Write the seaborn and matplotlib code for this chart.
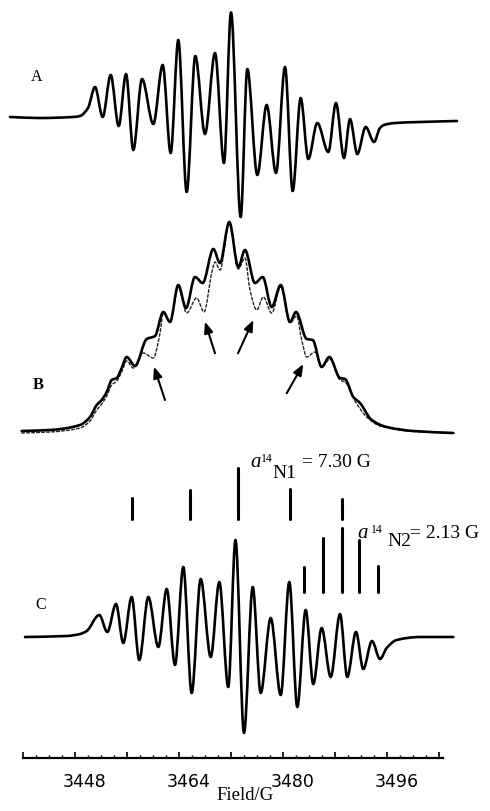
import numpy as np
import pandas as pd
import matplotlib
matplotlib.use("Agg")
import matplotlib.pyplot as plt
from matplotlib.path import Path
from matplotlib.patches import PathPatch
from matplotlib.transforms import ScaledTranslation
import seaborn as sns

# ---------------- data (Field in G, signal in arbitrary units) ----------------
field_A = [3438.00, 3442.62, 3447.69, 3448.77, 3450.00, 3451.08, 3452.26, 3453.49,
           3454.72, 3455.85, 3456.97, 3458.31, 3460.05, 3461.49, 3462.72, 3463.89,
           3465.18, 3466.51, 3468.00, 3469.54, 3470.92, 3472.00, 3473.49, 3474.51,
           3476.05, 3477.49, 3478.92, 3480.31, 3481.49, 3482.72, 3483.89, 3485.28,
           3486.97, 3488.15, 3489.38, 3490.31, 3491.43, 3492.72, 3494.00, 3494.92,
           3495.54, 3497.23, 3501.08, 3506.77]
signal_A = [1, 0, 1, 2, 10, 31, 1, 43, -8, 44, -32, 39, -6, 53, -35, 78, -74, 62, -16,
            65, -45, 105.5, -99, 49, -57, 13, -55, 51, -73, 20, -41, -5, -34, 15, -40,
            -1, -36, -9, -24, -10, -7, -5, -4, -3]

field_B = [3439.80, 3444.15, 3448.77, 3450.31, 3451.34, 3452.11, 3452.88, 3453.65,
           3454.42, 3455.18, 3455.95, 3457.23, 3459.03, 3460.31, 3461.58, 3462.62,
           3463.89, 3465.08, 3466.46, 3467.65, 3469.28, 3470.31, 3471.74, 3473.12,
           3474.15, 3475.69, 3476.88, 3478.26, 3479.65, 3481.08, 3482.00, 3483.65,
           3484.57, 3485.95, 3487.12, 3488.77, 3489.54, 3490.82, 3491.85, 3493.65,
           3495.95, 3500.05, 3506.20]
signal_B_exp = [0, 1, 6, 14, 26, 31, 39, 51, 53, 63, 74, 65, 92, 95, 119, 109, 146, 123,
                154, 148, 182, 168, 209, 164, 181, 148, 154, 124, 146, 109, 119, 92, 91,
                64, 74, 53, 52, 34, 28, 11, 4, 0, -2]

field_B_sim = [3439.80, 3444.15, 3448.77, 3450.31, 3451.34, 3452.11, 3452.88, 3453.65,
               3454.42, 3455.18, 3455.95, 3456.97, 3458.51, 3460.05, 3461.08, 3461.58,
               3462.62, 3463.89, 3465.18, 3466.72, 3467.85, 3469.03, 3469.54, 3470.31,
               3471.74, 3473.12, 3474.15, 3474.92, 3475.95, 3476.97, 3478.26, 3479.65,
               3481.08, 3482.11, 3482.88, 3483.65, 3484.92, 3485.95, 3487.23, 3488.77,
               3489.54, 3491.08, 3492.88, 3494.92, 3500.05, 3506.20]
signal_B_sim = [-2, -1, 3, 10, 21, 27, 35, 46, 50, 59, 70, 63, 78, 73, 98, 118, 109, 144,
                118, 133, 119, 158, 169, 161, 208, 162, 173, 141, 121, 134, 118, 144, 108,
                115, 91, 74, 79, 64, 72, 51, 49, 30, 14, 5, -0.5, -2]

field_C = [3440.31, 3446.72, 3448.77, 3449.80, 3451.74, 3452.97, 3454.31, 3455.43,
           3456.72, 3457.89, 3459.28, 3460.82, 3462.11, 3463.38, 3464.66, 3465.95,
           3467.34, 3468.88, 3470.20, 3471.58, 3472.69, 3474.00, 3475.34, 3476.57,
           3478.11, 3479.65, 3480.97, 3482.20, 3483.49, 3484.66, 3485.95, 3487.34,
           3488.77, 3489.89, 3491.23, 3492.35, 3493.69, 3494.92, 3495.95, 3497.49,
           3501.08, 3506.20]
signal_C = [0, 1, 3, 6, 22, 5, 33, -6, 40, -23, 40, -10, 48, -28, 70, -56, 58, -20, 55,
            -50, 97, -96, 50, -56, 19, -58, 55, -70, 27, -47, 9, -40, 23, -40, 5, -32, -4,
            -22, -11, -3, 0, 0]

# stick diagrams
sticks_N1_field = [3456.77, 3465.69, 3473.08, 3481.00, 3489.08]
sticks_N1_height = [21, 29, 51, 30, 20]
sticks_N2_field = [3483.28, 3486.20, 3489.12, 3491.74, 3494.66]
sticks_N2_height = [25, 54, 64, 52, 26]

tick_major = list(range(3440, 3505, 8))
tick_minor = list(range(3440, 3505, 2))
tick_labels = {3448: "3448", 3464: "3464", 3480: "3480", 3496: "3496"}

# ---------------- layout ----------------
W, H = 490, 811
AX_BOTTOM_PX = 758
PX_PER_G = 6.5
X0_PX, X0_G = 23, 3440.0

def fx(px):
    return X0_G + (px - X0_PX) / PX_PER_G

def fy(py):
    return AX_BOTTOM_PX - py

OFF_A, OFF_B, OFF_C = fy(118), fy(431), fy(637)
BASE_N1, BASE_N2 = fy(519), fy(592)

sns.set_theme(style="white")
plt.rcParams["font.family"] = ["DejaVu Sans"]
plt.rcParams["axes.facecolor"] = "white"
plt.rcParams["figure.facecolor"] = "white"
plt.rcParams["text.color"] = "black"
plt.rcParams["xtick.color"] = "black"
plt.rcParams["xtick.labelcolor"] = "black"
plt.rcParams["axes.edgecolor"] = "black"

fig = plt.figure(figsize=(W / 100, H / 100), dpi=100)
ax = fig.add_axes([0, (H - AX_BOTTOM_PX) / H, 1, AX_BOTTOM_PX / H])
ax.set_xlim(fx(0), fx(W))
ax.set_ylim(0, AX_BOTTOM_PX)


def smooth_path(x, y):
    x = np.asarray(x, float)
    y = np.asarray(y, float)
    n = len(x)
    h = np.diff(x)
    d = np.diff(y) / h
    m = np.zeros(n)
    for i in range(1, n - 1):
        if d[i - 1] * d[i] > 0:
            w1 = 2 * h[i] + h[i - 1]
            w2 = h[i] + 2 * h[i - 1]
            m[i] = (w1 + w2) / (w1 / d[i - 1] + w2 / d[i])
    m[0], m[-1] = d[0], d[-1]
    verts = [(x[0], y[0])]
    codes = [Path.MOVETO]
    for i in range(n - 1):
        verts += [(x[i] + h[i] / 3, y[i] + m[i] * h[i] / 3),
                  (x[i + 1] - h[i] / 3, y[i + 1] - m[i + 1] * h[i] / 3),
                  (x[i + 1], y[i + 1])]
        codes += [Path.CURVE4] * 3
    return Path(verts, codes)


def draw_trace(x, y, offset, **kw):
    p = smooth_path(x, np.asarray(y, float) + offset)
    ax.add_patch(PathPatch(p, fill=False, transform=ax.transData,
                           capstyle="round", joinstyle="round", **kw))


draw_trace(field_A, signal_A, OFF_A, lw=1.9, edgecolor="black")
draw_trace(field_B_sim, signal_B_sim, OFF_B, lw=1.0, edgecolor="#222222",
           linestyle=(0, (2.0, 1.6)))
draw_trace(field_B, signal_B_exp, OFF_B, lw=1.9, edgecolor="black")
draw_trace(field_C, signal_C, OFF_C, lw=1.9, edgecolor="black")

# sticks drawn with seaborn
rows = []
for k, (f, hgt) in enumerate(zip(sticks_N1_field, sticks_N1_height)):
    rows += [dict(field=f, y=BASE_N1, stick=f"n1_{k}"), dict(field=f, y=BASE_N1 + hgt, stick=f"n1_{k}")]
for k, (f, hgt) in enumerate(zip(sticks_N2_field, sticks_N2_height)):
    rows += [dict(field=f, y=BASE_N2, stick=f"n2_{k}"), dict(field=f, y=BASE_N2 + hgt, stick=f"n2_{k}")]
sticks = pd.DataFrame(rows)
sns.lineplot(data=sticks, x="field", y="y", units="stick", estimator=None,
             color="black", lw=2.2, ax=ax, legend=False, sort=False)
ax.set_xlabel("")
ax.set_ylabel("")

# arrows in panel B
arrows_px = [((165, 400), (154, 366.7)), ((215, 353.3), (205, 321.7)),
             ((238, 353.3), (253.3, 320)), ((286.7, 393.3), (303.3, 364))]
for (tx, ty), (hx, hy) in arrows_px:
    ax.annotate("", xy=(fx(hx), fy(hy)), xytext=(fx(tx), fy(ty)),
                arrowprops=dict(arrowstyle="-|>,head_length=0.55,head_width=0.22",
                                lw=1.5, color="black", shrinkA=0, shrinkB=0))

serif = ["Liberation Serif", "DejaVu Serif"]
ax.text(fx(37), fy(77), "A", ha="center", va="center", family=serif, fontsize=11.5,
        color="black")
ax.text(fx(38.5), fy(385), "B", ha="center", va="center", family=serif, fontsize=12,
        fontweight="bold", color="black")
ax.text(fx(41), fy(605), "C", ha="center", va="center", family=serif, fontsize=11.5,
        color="black")

# hyperfine labels
def hfc_label(x_a, base, x_14, base14, x_n, base_n, n_txt, x_eq, val_txt):
    ax.text(fx(x_a), fy(base), "a", family=serif, style="italic", fontsize=15,
            ha="left", va="baseline", color="black")
    ax.text(fx(x_14), fy(base14), "14", family=serif, fontsize=8.5, ha="left",
            va="baseline", color="black")
    ax.text(fx(x_n), fy(base_n), n_txt, family=serif, fontsize=14, ha="left",
            va="baseline", color="black")
    ax.text(fx(x_eq), fy(base), val_txt, family=serif, fontsize=14, ha="left",
            va="baseline", color="black")

hfc_label(250, 467, 261, 462, 272, 478, "N1", 302, "= 7.30 G")
hfc_label(357, 538, 371, 533, 387, 546, "N2", 410, "= 2.13 G")

# axis
for s in ["left", "right", "top"]:
    ax.spines[s].set_visible(False)
ax.spines["bottom"].set_bounds(3440, fx(443))
ax.spines["bottom"].set_linewidth(1.6)
ax.spines["bottom"].set_color("black")
ax.set_yticks([])
ax.set_xticks(tick_major)
ax.set_xticks(tick_minor, minor=True)
ax.set_xticklabels([tick_labels.get(t, "") for t in tick_major])
ax.tick_params(axis="x", which="major", direction="in", length=4.5, width=1.2,
               color="black", pad=11, labelsize=12.5, labelcolor="black", bottom=True)
ax.tick_params(axis="x", which="minor", direction="in", length=2.5, width=1.0,
               color="black", bottom=True)
shift = ScaledTranslation(10 / 100, 0, fig.dpi_scale_trans)
for lab in ax.get_xticklabels():
    lab.set_transform(lab.get_transform() + shift)

fig.text(245 / W, 1 - 795 / H, "Field/G", ha="center", va="center",
         family=serif, fontsize=13.5, color="black")

fig.savefig("out.png", dpi=100)
